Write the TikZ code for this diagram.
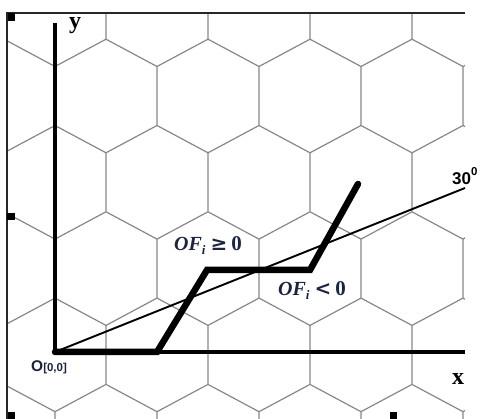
\documentclass[tikz,border=0pt]{standalone}
\usepackage[no-math]{fontspec}
\setmainfont{Liberation Serif}
\newfontfamily\labsans{Liberation Sans}
\newfontfamily\symserif{DejaVu Serif}
\definecolor{gridgray}{RGB}{135,135,135}
\definecolor{labnavy}{RGB}{28,35,64}
\newcommand{\ofsub}{{\bfseries\itshape OF\raisebox{-3.5pt}{\fontsize{13}{13}\selectfont i}}}
\tikzset{
  gridline/.style={draw=gridgray, line width=1.2pt},
  frameline/.style={draw=black!85, line width=1.4pt},
  axisline/.style={draw=black, line width=4.5pt},
  pathline/.style={draw=black, line width=6.5pt, line join=miter, line cap=round},
  thinline/.style={draw=black, line width=1.9pt},
  handle/.style={fill=black},
  axislab/.style={font=\fontsize{24}{24}\selectfont\bfseries, inner sep=0pt, anchor=base},
  oflab/.style={text=labnavy, inner sep=0pt, anchor=base west, font=\fontsize{20}{20}\selectfont}
}
\begin{document}
\begin{tikzpicture}[x=1pt,y=-1pt]
\useasboundingbox (0,0) rectangle (483,419);
% hexagonal grid
\begin{scope}
\clip (7,13) rectangle (465,419);
\foreach \r in {-1,...,4} {
  \pgfmathsetmacro\yc{96+86.3*\r}
  \pgfmathsetmacro\xo{mod(\r+2,2)==0 ? 55 : 106}
  \foreach \k in {-1,...,4} {
    \pgfmathsetmacro\xx{\xo+102*\k}
    \draw[gridline] (\xx-51,\yc+56.8) -- (\xx,\yc+29.5) -- (\xx+51,\yc+56.8)
                    (\xx,\yc+29.5) -- (\xx,\yc-29.5);
  }
}
\end{scope}
% frame
\coordinate (ftr) at (465,13);
\coordinate (ftl) at (7,13);
\coordinate (fbl) at (7,419);
\draw[frameline] (ftr) -- (ftl) -- (fbl);
% points
\coordinate (O) at (55,352);
\coordinate (Ytop) at (55,23);
\coordinate (Xend) at (465,352);
\coordinate (P1) at (157,352);
\coordinate (P2) at (207,270);
\coordinate (P3) at (310,270);
\coordinate (P4) at (358,184);
\coordinate (Lend) at (465,188);
% 30 degree line
\draw[thinline] (O) -- (Lend);
% axes
\draw[axisline] (Ytop) -- (O) -- (Xend);
% thick path
\draw[pathline] (O) -- (P1) -- (P2) -- (P3) -- (P4);
% labels
\node[axislab] (ylab) at (75,29) {y};
\node[axislab] (xlab) at (458,385) {x};
\node[inner sep=0pt, anchor=base west, font=\labsans\bfseries\fontsize{17}{17}\selectfont] (anglab) at (452,185) {30\raisebox{0.55em}{\fontsize{11.5}{11.5}\selectfont 0}};
\node[inner sep=0pt, anchor=base west, text=labnavy] (olab) at (31,372) {\labsans\bfseries\fontsize{15.5}{15.5}\selectfont O\fontsize{11.5}{11.5}\selectfont[0,0]};
\node[oflab] (lab1) at (174,251) {\ofsub\hspace{5pt}{\symserif\bfseries\fontsize{20}{20}\selectfont ≥}\hspace{4pt}{\bfseries\fontsize{21}{21}\selectfont 0}};
\node[oflab] (lab2) at (278,296) {\ofsub\hspace{5pt}{\symserif\bfseries\fontsize{20}{20}\selectfont <}\hspace{4pt}{\bfseries\fontsize{21}{21}\selectfont 0}};
% selection handles
\fill[handle] (8,13) rectangle (15,21);
\fill[handle] (7,213) rectangle (15,220);
\fill[handle] (8,412) rectangle (15,419);
\fill[handle] (390,412) rectangle (397,419);
\end{tikzpicture}
\end{document}
